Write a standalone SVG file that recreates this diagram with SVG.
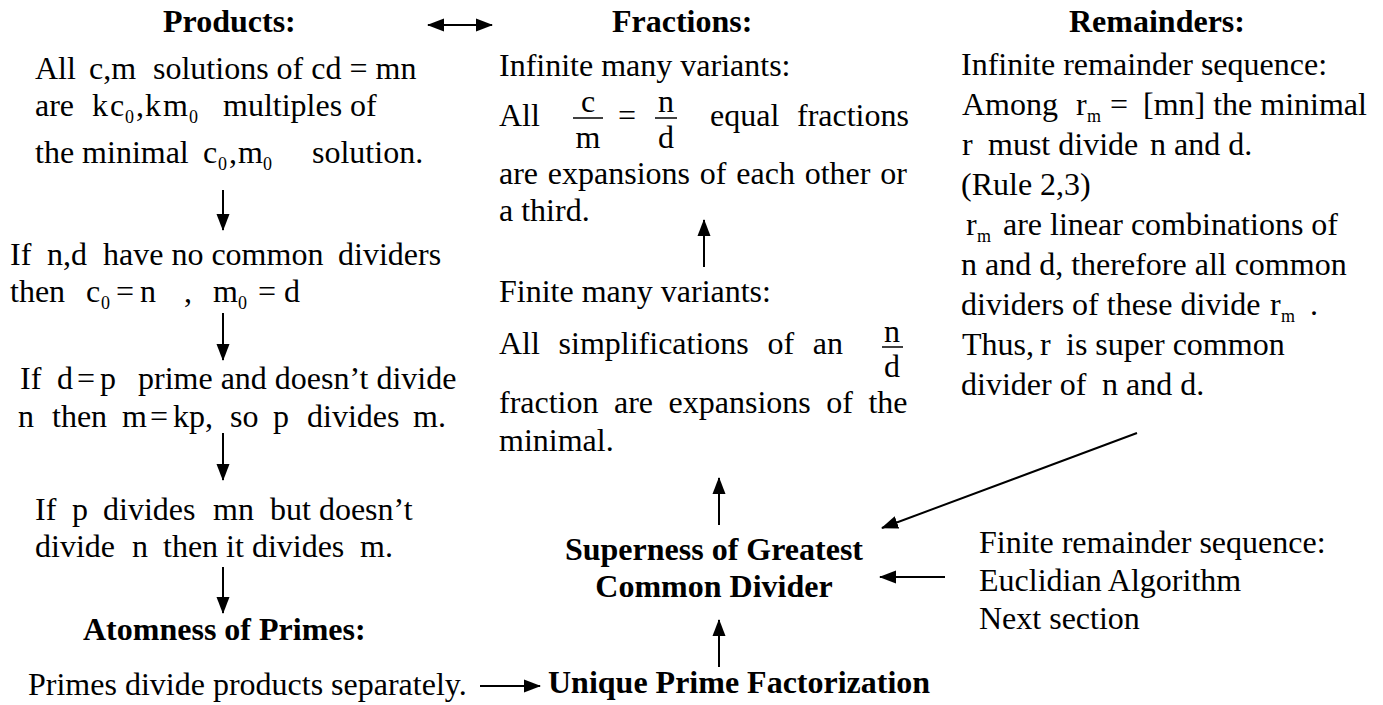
<svg xmlns="http://www.w3.org/2000/svg" width="1383" height="705" viewBox="0 0 1383 705">
<style>
text{font-family:"Liberation Serif","Times New Roman",serif;font-size:32px;fill:#000}
.b{font-weight:bold}
.s{font-size:18px}
.c{text-anchor:middle}
.ln{stroke:#000;stroke-width:2;fill:none}
.bar{stroke:#000;stroke-width:1.5}
</style>
<defs>
<marker id="ah" markerUnits="userSpaceOnUse" markerWidth="17" markerHeight="14" refX="16" refY="7" orient="auto-start-reverse">
<path d="M0,0.5 L17,7 L0,13.5 z" fill="#000"/>
</marker>
</defs>
<rect width="1383" height="705" fill="#fff"/>

<g id="products">
<text class="b" x="163" y="32">Products:</text>
<text y="79"><tspan x="35">All</tspan><tspan x="89">c,m</tspan><tspan x="153">solutions of cd = mn</tspan></text>
<text y="116"><tspan x="35">are</tspan><tspan x="92">k</tspan><tspan x="110">c</tspan><tspan class="s" x="125" y="123">0</tspan><tspan x="136" y="116">,</tspan><tspan x="145">k</tspan><tspan x="163">m</tspan><tspan class="s" x="189" y="123">0</tspan><tspan x="223" y="116">multiples of</tspan></text>
<text y="163"><tspan x="35">the minimal</tspan><tspan x="203">c</tspan><tspan class="s" x="218" y="170">0</tspan><tspan x="229" y="163">,</tspan><tspan x="238">m</tspan><tspan class="s" x="263" y="170">0</tspan><tspan x="312" y="163">solution.</tspan></text>
</g>

<g id="coprime">
<text y="265"><tspan x="10">If</tspan><tspan x="47">n,d</tspan><tspan x="103">have no common</tspan><tspan x="338">dividers</tspan></text>
<text y="302"><tspan x="10">then</tspan><tspan x="86">c</tspan><tspan class="s" x="101" y="309">0</tspan><tspan x="116" y="302">=</tspan><tspan x="140">n</tspan><tspan x="184">,</tspan><tspan x="213">m</tspan><tspan class="s" x="238" y="309">0</tspan><tspan x="258" y="302">=</tspan><tspan x="284">d</tspan></text>
</g>

<g id="prime-d">
<text y="389"><tspan x="20">If</tspan><tspan x="57">d</tspan><tspan x="77">=</tspan><tspan x="100">p</tspan><tspan x="138">prime and doesn’t divide</tspan></text>
<text y="427"><tspan x="18">n</tspan><tspan x="52">then</tspan><tspan x="122">m</tspan><tspan x="150">=</tspan><tspan x="173">kp,</tspan><tspan x="230">so</tspan><tspan x="273">p</tspan><tspan x="307">divides</tspan><tspan x="413">m.</tspan></text>
</g>

<g id="p-divides">
<text y="520"><tspan x="35">If</tspan><tspan x="72">p</tspan><tspan x="103">divides</tspan><tspan x="213">mn</tspan><tspan x="270">but doesn’t</tspan></text>
<text y="557"><tspan x="35">divide</tspan><tspan x="132">n</tspan><tspan x="163">then it divides</tspan><tspan x="360">m.</tspan></text>
</g>

<g id="atomness">
<text class="b" x="83" y="640">Atomness of Primes:</text>
<text x="28" y="695">Primes divide products separately.</text>
</g>

<g id="fractions">
<text class="b" x="612" y="32">Fractions:</text>
<text x="499" y="76">Infinite many variants:</text>
<text x="499" y="126">All</text>
<text class="c" x="588" y="112">c</text>
<line class="bar" x1="573" y1="118" x2="603" y2="118"/>
<text class="c" x="588" y="148">m</text>
<text x="618" y="126">=</text>
<text class="c" x="666" y="112">n</text>
<line class="bar" x1="655" y1="118" x2="677" y2="118"/>
<text class="c" x="666" y="148">d</text>
<text y="126"><tspan x="710">equal</tspan><tspan x="797">fractions</tspan></text>
<text x="499" y="184" word-spacing="1.8">are expansions of each other or</text>
<text x="499" y="221">a third.</text>
</g>

<g id="finite-fractions">
<text x="499" y="302">Finite many variants:</text>
<text x="499" y="354" word-spacing="10.7">All simplifications of an</text>
<text class="c" x="892" y="342">n</text>
<line class="bar" x1="882" y1="347" x2="903" y2="347"/>
<text class="c" x="892" y="377">d</text>
<text x="499" y="413" word-spacing="7.5">fraction are expansions of the</text>
<text x="499" y="451">minimal.</text>
</g>

<g id="remainders">
<text class="b" x="1069" y="32">Remainders:</text>
<text x="961" y="75">Infinite remainder sequence:</text>
<text y="115"><tspan x="962">Among</tspan><tspan x="1076">r</tspan><tspan class="s" x="1087" y="122">m</tspan><tspan x="1110" y="115">=</tspan><tspan x="1143">[mn] the minimal</tspan></text>
<text y="155"><tspan x="962">r</tspan><tspan x="988">must divide</tspan><tspan x="1150">n and d.</tspan></text>
<text x="961" y="195">(Rule 2,3)</text>
<text y="235"><tspan x="966">r</tspan><tspan class="s" x="977" y="242">m</tspan><tspan x="1003" y="235">are linear combinations of</tspan></text>
<text x="961" y="275">n and d, therefore all common</text>
<text y="315"><tspan x="961">dividers of these divide</tspan><tspan x="1270">r</tspan><tspan class="s" x="1281" y="322">m</tspan><tspan x="1310" y="315">.</tspan></text>
<text y="355"><tspan x="962">Thus,</tspan><tspan x="1040">r</tspan><tspan x="1066">is super common</tspan></text>
<text y="395"><tspan x="961">divider of</tspan><tspan x="1102">n and d.</tspan></text>
</g>

<g id="gcd">
<text class="b c" x="714" y="560">Superness of Greatest</text>
<text class="b c" x="714" y="597">Common Divider</text>
</g>

<g id="euclid">
<text x="979" y="553">Finite remainder sequence:</text>
<text x="979" y="591">Euclidian Algorithm</text>
<text x="979" y="629">Next section</text>
</g>

<g id="upf">
<text class="b" x="548" y="693">Unique Prime Factorization</text>
</g>

<g id="connectors">
<line class="ln" x1="428" y1="25" x2="492" y2="25" marker-start="url(#ah)" marker-end="url(#ah)"/>
<line class="ln" x1="223" y1="190" x2="223" y2="230" marker-end="url(#ah)"/>
<line class="ln" x1="223" y1="313" x2="223" y2="360" marker-end="url(#ah)"/>
<line class="ln" x1="223" y1="433" x2="223" y2="480" marker-end="url(#ah)"/>
<line class="ln" x1="223" y1="567" x2="223" y2="613" marker-end="url(#ah)"/>
<line class="ln" x1="480" y1="686" x2="540" y2="686" marker-end="url(#ah)"/>
<line class="ln" x1="704" y1="267" x2="704" y2="220" marker-end="url(#ah)"/>
<line class="ln" x1="719" y1="525" x2="719" y2="478" marker-end="url(#ah)"/>
<line class="ln" x1="719" y1="667" x2="719" y2="620" marker-end="url(#ah)"/>
<line class="ln" x1="945" y1="577" x2="880" y2="577" marker-end="url(#ah)"/>
<line class="ln" x1="1137" y1="433" x2="882" y2="528" marker-end="url(#ah)"/>
</g>
</svg>
